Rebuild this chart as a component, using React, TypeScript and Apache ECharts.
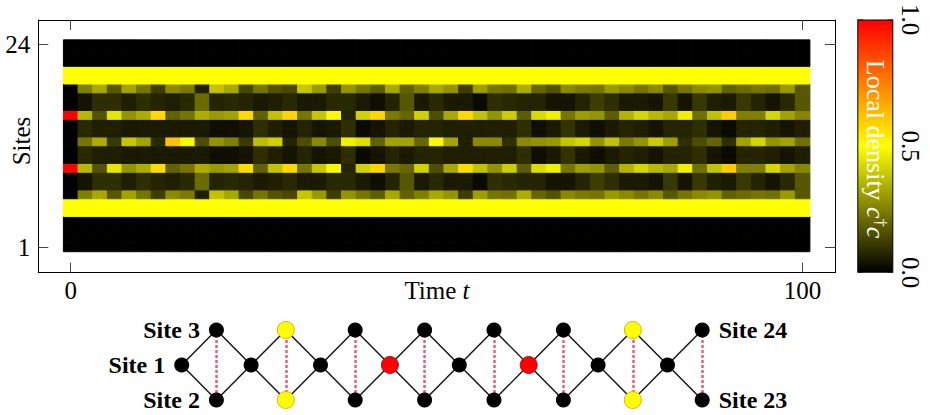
import { useEffect, useRef } from "react";
import * as echarts from "echarts";

const FONT = "'Liberation Serif', 'Times New Roman', serif";

// time grid (columns of the density plot)
const times: number[] = [
  0, 2, 4, 6, 8, 10, 12, 14, 16, 18, 20, 22, 24, 26, 28, 30, 32, 34, 36, 38, 40, 42, 44, 46, 48, 50,
  52, 54, 56, 58, 60, 62, 64, 66, 68, 70, 72, 74, 76, 78, 80, 82, 84, 86, 88, 90, 92, 94, 96, 98, 100,
];
const xTickValues = [0, 100];
const yTickValues = [1, 24];

// local densities per site row
const densityEmpty = times.map(() => 0);
const densityHalf = times.map(() => 0.5);
// sites 7 and 19
const densityA = [
  0, 0.25, 0.33, 0.17, 0.32, 0.23, 0.12, 0.27, 0.24, 0.06,
  0.38, 0.33, 0.14, 0.23, 0.16, 0.14, 0.39, 0.3, 0.12, 0.29,
  0.23, 0.18, 0.33, 0.19, 0.25, 0.33, 0.29, 0.12, 0.31, 0.23,
  0.22, 0.34, 0.2, 0.16, 0.27, 0.24, 0.23, 0.3, 0.27, 0.23,
  0.27, 0.17, 0.23, 0.27, 0.29, 0.19, 0.21, 0.23, 0.22, 0.3, 0.17,
];
// sites 8, 9, 17, 18
const densityB = [
  0, 0.04, 0.09, 0.09, 0.06, 0.09, 0.07, 0.06, 0.08, 0.21,
  0.07, 0.08, 0.07, 0.05, 0.06, 0.08, 0.05, 0.05, 0.08, 0.08,
  0.05, 0.03, 0.07, 0.17, 0.05, 0.08, 0.05, 0.05, 0.02, 0.09,
  0.08, 0.07, 0.07, 0.04, 0.04, 0.07, 0.12, 0.09, 0.05, 0.05,
  0.04, 0.11, 0.04, 0.11, 0.06, 0.05, 0.11, 0.07, 0.04, 0.08, 0.17,
];
// sites 10 and 16
const densityC = [
  1.0, 0.36, 0.16, 0.45, 0.29, 0.34, 0.57, 0.19, 0.23, 0.34,
  0.3, 0.32, 0.57, 0.19, 0.38, 0.58, 0.23, 0.39, 0.49, 0.07,
  0.41, 0.58, 0.24, 0.2, 0.41, 0.15, 0.33, 0.57, 0.38, 0.29,
  0.4, 0.18, 0.43, 0.47, 0.23, 0.31, 0.29, 0.18, 0.35, 0.42,
  0.36, 0.33, 0.47, 0.22, 0.38, 0.6, 0.25, 0.25, 0.42, 0.32, 0.26,
];
// sites 11, 12, 14, 15
const densityD = [
  0, 0.08, 0.06, 0.06, 0.05, 0.05, 0.05, 0.05, 0.05, 0.05,
  0.03, 0.03, 0.04, 0.09, 0.06, 0.04, 0.07, 0.04, 0.05, 0.09,
  0.02, 0.04, 0.07, 0.05, 0.07, 0.07, 0.06, 0.06, 0.06, 0.06,
  0.06, 0.09, 0.03, 0.05, 0.1, 0.05, 0.03, 0.05, 0.07, 0.06,
  0.04, 0.07, 0.07, 0.09, 0.04, 0.02, 0.07, 0.07, 0.06, 0.04, 0.06,
];
// site 13
const densityE = [
  0, 0.23, 0.34, 0.11, 0.39, 0.32, 0.08, 0.62, 0.49, 0.15,
  0.29, 0.25, 0.11, 0.37, 0.41, 0.07, 0.15, 0.27, 0.15, 0.47,
  0.44, 0.19, 0.32, 0.32, 0.2, 0.49, 0.32, 0.06, 0.27, 0.27,
  0.09, 0.27, 0.29, 0.3, 0.39, 0.42, 0.29, 0.38, 0.24, 0.29,
  0.4, 0.31, 0.09, 0.15, 0.2, 0.09, 0.32, 0.42, 0.29, 0.32, 0.22,
];

// site 1 .. site 24
const siteRows: number[][] = [
  densityEmpty, densityEmpty, densityEmpty, densityEmpty,
  densityHalf, densityHalf,
  densityA, densityB, densityB, densityC, densityD, densityD,
  densityE,
  densityD, densityD, densityC, densityB, densityB, densityA,
  densityHalf, densityHalf,
  densityEmpty, densityEmpty, densityEmpty,
];

const labeledSites: Record<number, string> = { 1: "left", 2: "left", 3: "left", 23: "right", 24: "right" };

function colormap(v: number): string {
  const c = Math.max(0, Math.min(1, v));
  let r: number, g: number;
  if (c <= 0.5) {
    r = g = Math.round(510 * c);
  } else {
    r = 255;
    g = Math.round(510 * (1 - c));
  }
  return `rgb(${r},${g},0)`;
}

function latticePos(s: number): [number, number] {
  if (s === 1) return [0, 0];
  const m = s - 2;
  const k = Math.floor(m / 3);
  const r = m % 3;
  if (r === 0) return [2 * k + 1, -1];
  if (r === 1) return [2 * k + 1, 1];
  return [2 * k + 2, 0];
}

export default function App() {
  const ref = useRef<HTMLDivElement>(null);

  useEffect(() => {
    if (!ref.current) return;
    const chart = echarts.init(ref.current, undefined, { renderer: "svg" });

    const heatData: number[][] = [];
    siteRows.forEach((row, i) => {
      row.forEach((v, k) => heatData.push([times[k], i + 1, v]));
    });

    const nodes = siteRows.map((row, i) => {
      const s = i + 1;
      const v0 = row[0];
      const pos = latticePos(s);
      const border = v0 > 0.75 ? "#b0102a" : v0 > 0.25 ? "#e8b000" : "#000";
      const lab = labeledSites[s];
      return {
        name: "S" + s,
        value: pos,
        symbolSize: v0 > 0 ? 17 : 15,
        itemStyle: { color: colormap(v0), borderColor: border, borderWidth: v0 > 0 ? 1 : 0 },
        label: lab
          ? {
              show: true,
              position: lab,
              distance: 9,
              formatter: "Site " + s,
              fontFamily: FONT,
              fontWeight: "bold",
              fontSize: 24,
              color: "#000",
            }
          : { show: false },
      };
    });

    const links: any[] = [];
    for (let b = 2; b <= 24; b += 3) {
      const t = b + 1;
      const left = b - 1;
      const right = b + 2;
      links.push({ source: "S" + left, target: "S" + b });
      links.push({ source: "S" + left, target: "S" + t });
      if (right <= 24) {
        links.push({ source: "S" + right, target: "S" + b });
        links.push({ source: "S" + right, target: "S" + t });
      }
      links.push({
        source: "S" + t,
        target: "S" + b,
        lineStyle: { color: "#e8607a", width: 2.5, type: [3, 2], opacity: 1 },
      });
    }

    const mainX = { min: -4.43, max: 104.43 };
    const mainY = { min: -1.88, max: 26.75 };
    const tickStyle = { color: "#444", width: 1 };
    const labelStyle = { fontFamily: FONT, fontSize: 25, color: "#000" };
    const frameLine = { show: true, onZero: false, lineStyle: { color: "#000", width: 1 } };

    chart.setOption({
      animation: false,
      grid: [
        { left: 38.3, top: 20, width: 796.7, height: 252.7 },
        { left: 857.3, top: 19.5, width: 36, height: 253.2 },
        { left: 181.7, top: 330, width: 520.5, height: 70 },
      ],
      xAxis: [
        {
          gridIndex: 0,
          type: "value",
          position: "bottom",
          ...mainX,
          axisLine: frameLine,
          axisTick: { show: true, inside: true, length: 10, customValues: xTickValues, lineStyle: tickStyle },
          axisLabel: { show: true, customValues: xTickValues, margin: 5, ...labelStyle },
          splitLine: { show: false },
        },
        {
          gridIndex: 0,
          type: "value",
          position: "top",
          ...mainX,
          axisLine: frameLine,
          axisTick: { show: true, inside: true, length: 10, customValues: xTickValues, lineStyle: tickStyle },
          axisLabel: { show: false },
          splitLine: { show: false },
        },
        { gridIndex: 1, type: "category", data: ["c"], show: false },
        { gridIndex: 2, type: "value", min: 0, max: 15, show: false },
      ],
      yAxis: [
        {
          gridIndex: 0,
          type: "value",
          position: "left",
          ...mainY,
          axisLine: frameLine,
          axisTick: { show: true, inside: true, length: 10, customValues: yTickValues, lineStyle: tickStyle },
          axisLabel: { show: true, customValues: yTickValues, margin: 8, ...labelStyle },
          splitLine: { show: false },
        },
        {
          gridIndex: 0,
          type: "value",
          position: "right",
          ...mainY,
          axisLine: frameLine,
          axisTick: { show: true, inside: true, length: 10, customValues: yTickValues, lineStyle: tickStyle },
          axisLabel: { show: false },
          splitLine: { show: false },
        },
        {
          gridIndex: 1,
          type: "value",
          position: "right",
          min: 0,
          max: 1,
          interval: 0.5,
          axisLine: { show: false, onZero: false },
          axisTick: { show: true, inside: true, length: 6, lineStyle: { color: "#888", width: 1 } },
          axisLabel: {
            show: true,
            rotate: -90,
            margin: 5,
            formatter: (v: number) => v.toFixed(1),
            ...labelStyle,
          },
          splitLine: { show: false },
        },
        {
          gridIndex: 1,
          type: "value",
          position: "left",
          min: 0,
          max: 1,
          interval: 0.5,
          axisLine: { show: false, onZero: false },
          axisTick: { show: true, inside: true, length: 6, lineStyle: { color: "#888", width: 1 } },
          axisLabel: { show: false },
          splitLine: { show: false },
        },
        { gridIndex: 2, type: "value", min: -1, max: 1, show: false },
      ],
      series: [
        {
          type: "custom",
          xAxisIndex: 0,
          yAxisIndex: 0,
          data: heatData,
          encode: { x: 0, y: 1 },
          silent: true,
          z: 1,
          renderItem: (_params: any, api: any) => {
            const t = api.value(0);
            const s = api.value(1);
            const v = api.value(2);
            const p0 = api.coord([t - 1, s + 0.5]);
            const p1 = api.coord([t + 1, s - 0.5]);
            const c = colormap(v);
            return {
              type: "rect",
              shape: { x: p0[0], y: p0[1], width: p1[0] - p0[0], height: p1[1] - p0[1] },
              style: { fill: c, stroke: c, lineWidth: 1 },
            };
          },
        },
        {
          type: "bar",
          xAxisIndex: 2,
          yAxisIndex: 2,
          data: [1],
          barWidth: "100%",
          silent: true,
          z: 1,
          itemStyle: {
            borderColor: "#000",
            borderWidth: 1,
            color: new echarts.graphic.LinearGradient(0, 1, 0, 0, [
              { offset: 0, color: "#000000" },
              { offset: 0.5, color: "#ffff00" },
              { offset: 1, color: "#ff0000" },
            ]),
          },
        },
        {
          type: "graph",
          coordinateSystem: "cartesian2d",
          xAxisIndex: 3,
          yAxisIndex: 4,
          data: nodes,
          links,
          symbol: "circle",
          edgeSymbol: ["none", "none"],
          lineStyle: { color: "#111", width: 1.4, opacity: 1, curveness: 0 },
          emphasis: { disabled: true },
          silent: true,
          z: 3,
        },
      ],
      graphic: [
        {
          type: "text",
          x: 21,
          y: 141,
          rotation: Math.PI / 2,
          style: {
            text: "Sites",
            fontFamily: FONT,
            fontSize: 25,
            fill: "#000",
            align: "center",
            verticalAlign: "middle",
          },
        },
        {
          type: "text",
          x: 437,
          y: 290,
          style: {
            text: "Time {it|t}",
            fontFamily: FONT,
            fontSize: 25,
            fill: "#000",
            align: "center",
            verticalAlign: "middle",
            rich: {
              it: { fontFamily: FONT, fontSize: 25, fontStyle: "italic", fill: "#000" },
            },
          },
        },
        {
          type: "text",
          x: 875,
          y: 149,
          rotation: -Math.PI / 2,
          z: 10,
          style: {
            text: "Local density {it|c}{sup|†}{it|c}",
            fontFamily: FONT,
            fontSize: 26,
            fill: "#fff",
            align: "center",
            verticalAlign: "middle",
            rich: {
              it: { fontFamily: FONT, fontSize: 26, fontStyle: "italic", fill: "#fff" },
              sup: { fontFamily: FONT, fontSize: 16, fill: "#fff", verticalAlign: "top" },
            },
          },
        },
      ],
    });

    return () => chart.dispose();
  }, []);

  return (
    <div
      ref={ref}
      style={{ position: "fixed", left: 0, top: 0, width: 930, height: 415, background: "#fff" }}
    />
  );
}
